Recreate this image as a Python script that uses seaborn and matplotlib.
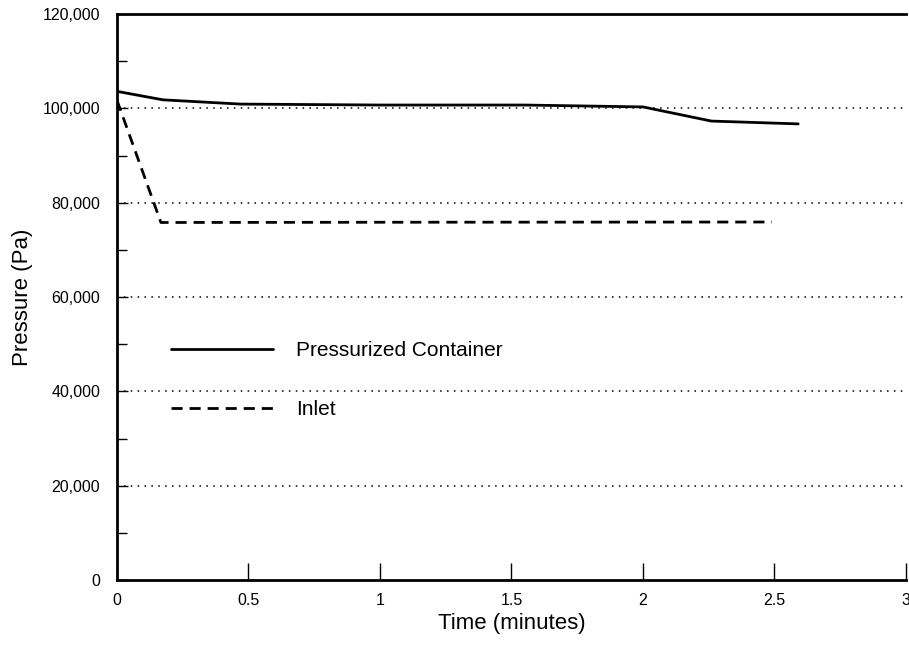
import matplotlib
matplotlib.use("Agg")
import matplotlib.pyplot as plt
import seaborn as sns
import pandas as pd
from matplotlib.ticker import FuncFormatter, MultipleLocator

# values
container_t = [0.0, 0.175, 0.47, 1.0, 1.55, 2.0, 2.26, 2.59]
container_p = [103600, 101800, 100900, 100700, 100700, 100300, 97300, 96700]
inlet_t = [0.0, 0.167, 1.0, 2.49]
inlet_p = [101700, 75800, 75850, 75900]

series_names = ["Pressurized Container", "Inlet"]
x_ticks = [0, 0.5, 1, 1.5, 2, 2.5, 3]
x_tick_labels = ["0", "0.5", "1", "1.5", "2", "2.5", "3"]
y_ticks = [0, 20000, 40000, 60000, 80000, 100000, 120000]

df = pd.concat([
    pd.DataFrame({"time": container_t, "pressure": container_p, "series": series_names[0]}),
    pd.DataFrame({"time": inlet_t, "pressure": inlet_p, "series": series_names[1]}),
])

sns.set_style("ticks")
plt.rcParams["font.family"] = ["Liberation Sans", "DejaVu Sans"]
plt.rcParams["text.color"] = "black"
plt.rcParams["axes.labelcolor"] = "black"
plt.rcParams["xtick.color"] = "black"
plt.rcParams["ytick.color"] = "black"

fig = plt.figure(figsize=(9.09, 6.54), dpi=100)
ax = fig.add_axes([0.1287, 0.1131, 0.868, 0.8655])

sns.lineplot(
    data=df, x="time", y="pressure", style="series",
    style_order=series_names, dashes={series_names[0]: "", series_names[1]: (4, 2.5)},
    color="black", linewidth=2, ax=ax, sort=False, estimator=None,
)

for y in y_ticks[1:-1]:
    ax.axhline(y, color="black", linestyle=(0, (1, 3.5)), linewidth=1.1, zorder=0)

ax.set_xlim(0, 3)
ax.set_ylim(0, 120000)
ax.set_xticks(x_ticks)
ax.set_xticklabels(x_tick_labels)
ax.set_yticks(y_ticks)
ax.yaxis.set_major_formatter(FuncFormatter(lambda v, _: f"{int(v):,}"))
ax.yaxis.set_minor_locator(MultipleLocator(10000))

ax.tick_params(axis="x", direction="in", length=12, width=1, labelsize=11.5, pad=9)
ax.tick_params(axis="y", which="major", direction="in", length=8, width=1, labelsize=11.5, pad=12)
ax.tick_params(axis="y", which="minor", direction="in", length=7, width=1)

for side in ["left", "bottom", "top"]:
    ax.spines[side].set_linewidth(2)
    ax.spines[side].set_color("black")
ax.spines["right"].set_visible(False)

ax.set_xlabel("Time (minutes)", fontsize=16, labelpad=4)
ax.set_ylabel("Pressure (Pa)", fontsize=16, labelpad=7)

leg = ax.legend(
    loc="upper left", bbox_to_anchor=(0.045, 0.455), frameon=False,
    fontsize=15, handlelength=4.9, handletextpad=1.1, labelspacing=1.9,
)
for line in leg.get_lines():
    line.set_linewidth(2)
for txt in leg.get_texts():
    txt.set_color("black")

fig.savefig("out.png", dpi=100)
